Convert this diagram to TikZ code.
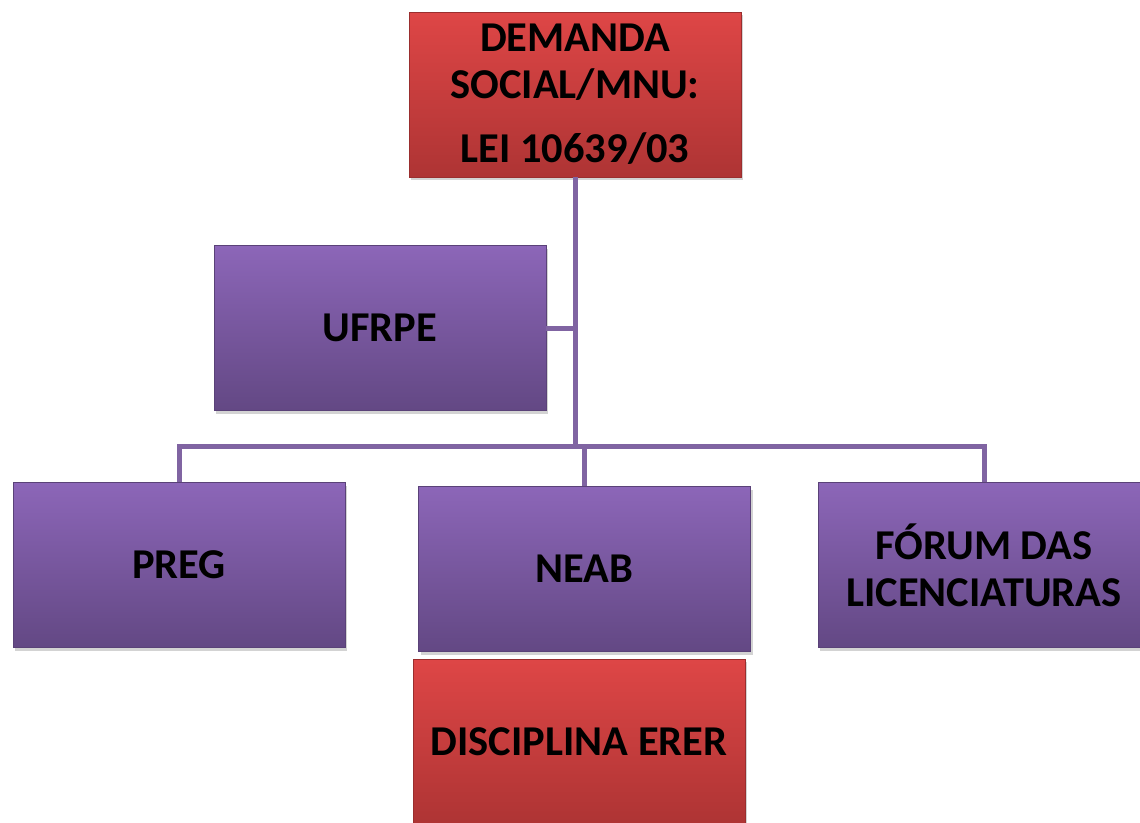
\documentclass[tikz,border=0pt]{standalone}
\usepackage{fontspec}
\setmainfont{Carlito}
\usetikzlibrary{shadows}
\definecolor{redtop}{HTML}{DE4646}
\definecolor{redbot}{HTML}{AE3434}
\definecolor{redline}{HTML}{9A2E2E}
\definecolor{purtop}{HTML}{8C66B8}
\definecolor{purbot}{HTML}{634884}
\definecolor{purline}{HTML}{5A4278}
\definecolor{conn}{HTML}{8064A2}
\tikzset{
  box/.style={rectangle, minimum width=332pt, minimum height=165pt, inner sep=0pt,
    align=center, font=\bfseries\fontsize{42.5}{47}\selectfont, text=black,
    line width=0.8pt,
    drop shadow={shadow xshift=2pt, shadow yshift=-3pt, opacity=0.35}},
  redbox/.style={box, draw=redline, top color=redtop, bottom color=redbot},
  purbox/.style={box, draw=purline, top color=purtop, bottom color=purbot},
  link/.style={draw=conn, line width=5pt}
}
\begin{document}
\begin{tikzpicture}[x=1pt, y=-1pt]
\useasboundingbox (0,0) rectangle (1140,822);
\node[redbox] (top) at (575,94.5) {DEMANDA\\SOCIAL/MNU:\\[17pt]LEI 10639/03};
\node[purbox] (ufrpe) at (380,328) {UFRPE};
\node[purbox] (preg) at (179,565) {PREG};
\node[purbox] (neab) at (584.5,569) {NEAB};
\node[purbox] (forum) at (984,565) {FÓRUM DAS\\LICENCIATURAS};
\node[redbox] (disc) at (579,741.5) {DISCIPLINA ERER};
\coordinate (j) at (575,446);
\draw[link] (top.south) -- (j);
\draw[link] (ufrpe.east) -- (ufrpe.east -| j);
\draw[link] (preg.north) -- (preg.north |- j) -- (forum.north |- j) -- (forum.north);
\draw[link] (neab.north) -- (neab.north |- j);
\end{tikzpicture}
\end{document}
